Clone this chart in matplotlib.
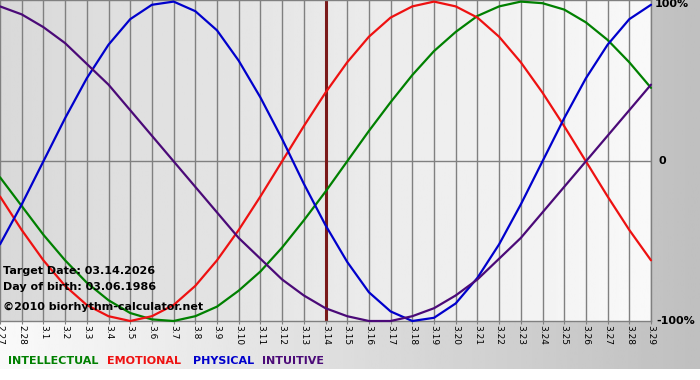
import numpy as np
import matplotlib.pyplot as plt
#--------------------------------------------------------------------------------------------------------------------
# Chart data (daily values, -1..1)
#--------------------------------------------------------------------------------------------------------------------
day_labels = ['2.27', '2.28', '3.1', '3.2', '3.3', '3.4', '3.5', '3.6', '3.7', '3.8', '3.9', '3.10',
              '3.11', '3.12', '3.13', '3.14', '3.15', '3.16', '3.17', '3.18', '3.19', '3.20', '3.21',
              '3.22', '3.23', '3.24', '3.25', '3.26', '3.27', '3.28', '3.29']
intellectual = [-0.10, -0.28, -0.46, -0.62, -0.76, -0.87, -0.95, -0.99, -1.00, -0.97, -0.91, -0.81,
                -0.69, -0.54, -0.37, -0.19, 0.00, 0.19, 0.37, 0.54, 0.69, 0.81, 0.91, 0.97, 1.00,
                0.99, 0.95, 0.87, 0.76, 0.62, 0.46]
emotional    = [-0.22, -0.43, -0.62, -0.78, -0.90, -0.97, -1.00, -0.97, -0.90, -0.78, -0.62, -0.43,
                -0.22, 0.00, 0.22, 0.43, 0.62, 0.78, 0.90, 0.97, 1.00, 0.97, 0.90, 0.78, 0.62,
                0.43, 0.22, 0.00, -0.22, -0.43, -0.62]
physical     = [-0.52, -0.27, 0.00, 0.27, 0.52, 0.73, 0.89, 0.98, 1.00, 0.94, 0.82, 0.63, 0.40,
                0.14, -0.14, -0.40, -0.63, -0.82, -0.94, -1.00, -0.98, -0.89, -0.73, -0.52, -0.27,
                0.00, 0.27, 0.52, 0.73, 0.89, 0.98]
intuitive    = [0.97, 0.92, 0.84, 0.74, 0.61, 0.48, 0.32, 0.16, 0.00, -0.16, -0.32, -0.48, -0.61,
                -0.74, -0.84, -0.92, -0.97, -1.00, -1.00, -0.97, -0.92, -0.84, -0.74, -0.61, -0.48,
                -0.32, -0.16, 0.00, 0.16, 0.32, 0.48]
target_label = '3.14'
series_names  = ['INTELLECTUAL', 'EMOTIONAL', 'PHYSICAL', 'INTUITIVE']
series_colors = ['#008000', '#ee1111', '#0000cc', '#4b0a78']
info_lines = ['Target Date: 03.14.2026', 'Day of birth: 03.06.1986', '\u00a92010 biorhythm-calculator.net']
#--------------------------------------------------------------------------------------------------------------------
# Figure and background
#--------------------------------------------------------------------------------------------------------------------
W, H = 700, 380
fig = plt.figure(figsize=(W/100, H/100), dpi=100)
fig.patch.set_facecolor('white')

bg = fig.add_axes([0, 1-369/H, 1, 369/H])
bg.imshow(np.linspace(0.98, 0.75, 256)[None, :], cmap='gray', vmin=0, vmax=1,
          aspect='auto', extent=[0, 1, 0, 1])
bg.set_axis_off()

ax = fig.add_axes([0, 1-321/H, 651/W, 321/H])
x = np.arange(len(day_labels))
ax.set_xlim(0, len(day_labels)-1)
ax.set_ylim(-1.0, 1.01)
ax.imshow(np.linspace(0.85, 0.975, 256)[None, :], cmap='gray', vmin=0, vmax=1,
          aspect='auto', extent=[0, len(day_labels)-1, -1.0, 1.01], zorder=0)
#--------------------------------------------------------------------------------------------------------------------
# Grid, spines and ticks
#--------------------------------------------------------------------------------------------------------------------
ax.set_xticks(x)
ax.set_xticklabels(day_labels, rotation=270, fontsize=6.5, ha='center', va='top')
ax.set_yticks([])
ax.grid(axis='x', color='#808080', lw=1.0, zorder=1)
ax.axhline(0, color='#808080', lw=1.0, zorder=1)
ax.tick_params(axis='x', length=2, color='#808080', pad=1)
for side in ['top', 'bottom', 'right']:
    ax.spines[side].set_color('#808080')
    ax.spines[side].set_linewidth(1.0)
ax.spines['left'].set_visible(False)
#--------------------------------------------------------------------------------------------------------------------
# Curves
#--------------------------------------------------------------------------------------------------------------------
ax.axvline(day_labels.index(target_label), color='#7a1a1a', lw=2.2, zorder=2)
for vals, col in zip([intellectual, emotional, physical, intuitive], series_colors):
    ax.plot(x, vals, color=col, lw=1.6, zorder=3, clip_on=False, solid_capstyle='round')
#--------------------------------------------------------------------------------------------------------------------
# Texts
#--------------------------------------------------------------------------------------------------------------------
yt = ax.get_yaxis_transform()
ax.text(1.005, 0.985, '100%', transform=yt, fontsize=8, fontweight='bold', va='center', ha='left')
ax.text(1.011, 0.0, '0', transform=yt, fontsize=8, fontweight='bold', va='center', ha='left')
ax.text(1.008, -1.0, '-100%', transform=yt, fontsize=8, fontweight='bold', va='center', ha='left')

for i, line in enumerate(info_lines):
    fig.text(3/W, 1-[271, 287, 307][i]/H, line, fontsize=8, fontweight='bold', va='center', ha='left')

for name, col, xp in zip(series_names, series_colors, [8, 107, 193, 262]):
    fig.text(xp/W, 1-361/H, name, color=col, fontsize=8, fontweight='bold', va='center', ha='left')

plt.savefig('out.png', dpi=100)
